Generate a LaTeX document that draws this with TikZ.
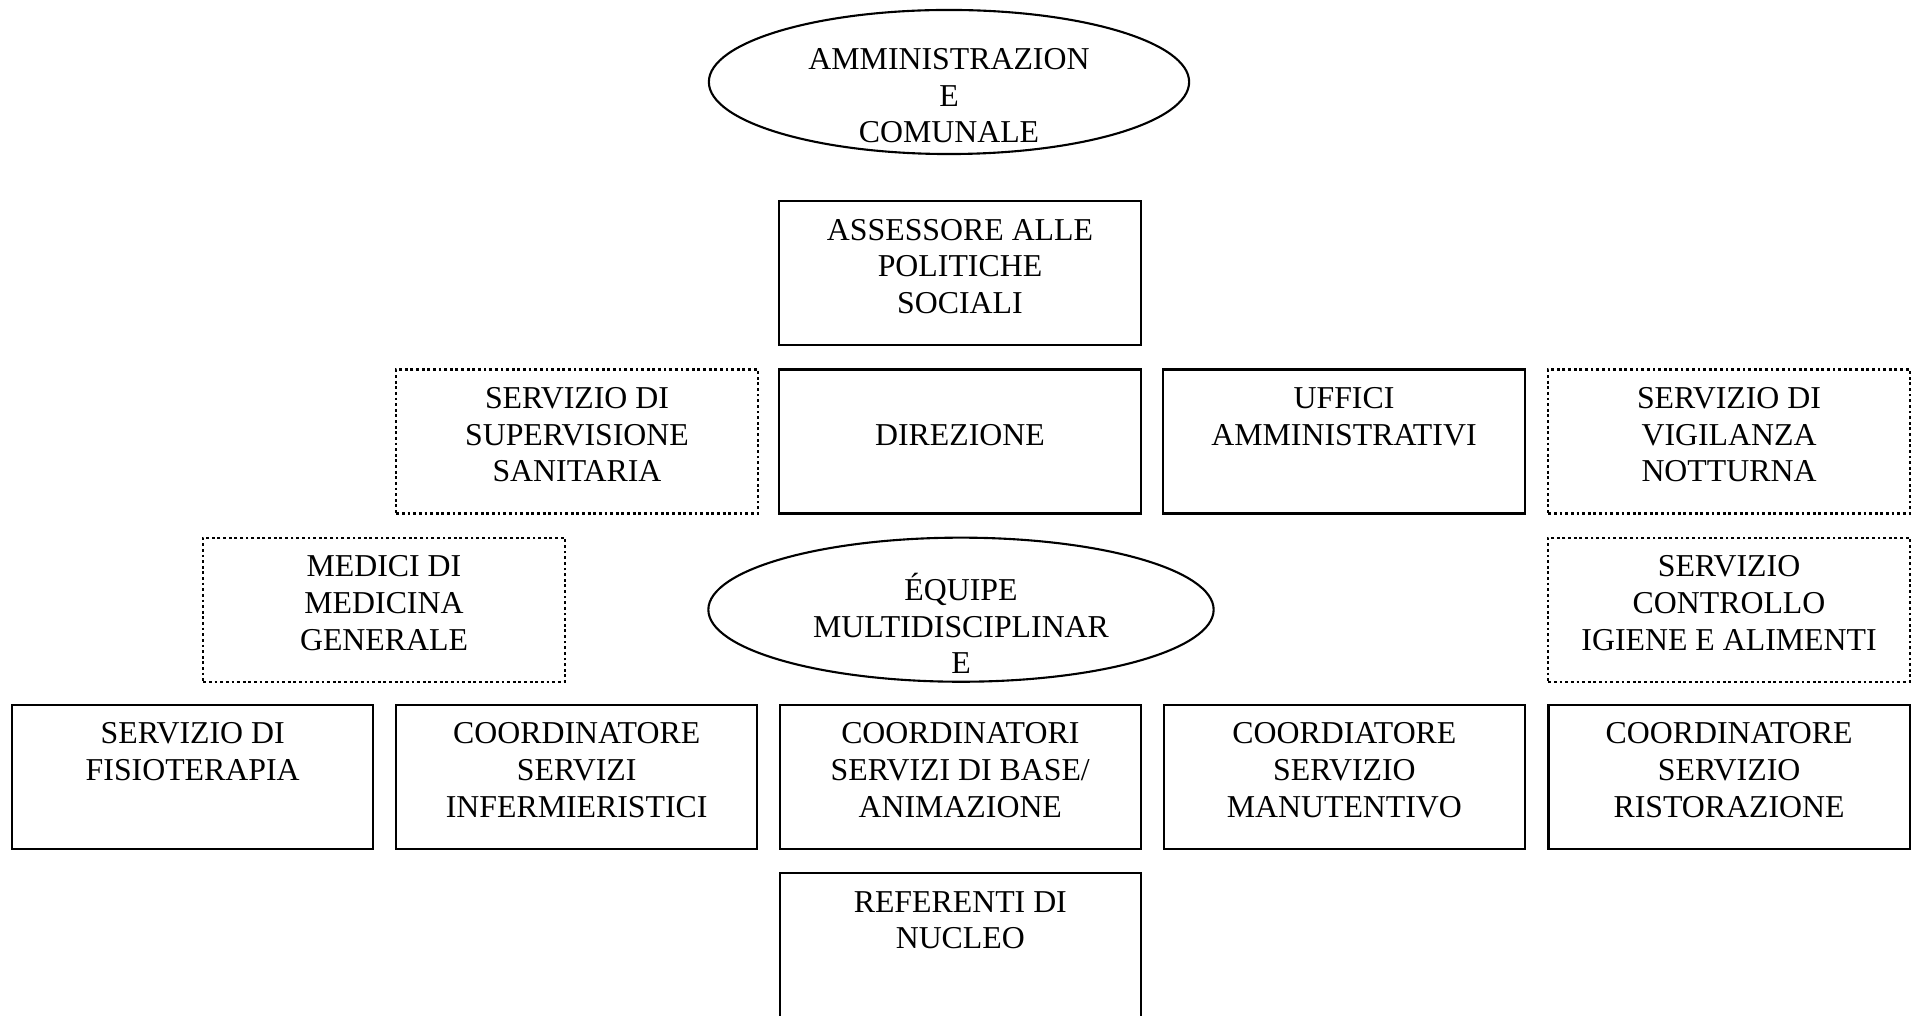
\documentclass[tikz,border=0pt]{standalone}
\usepackage{fontspec}
\setmainfont{Liberation Serif}
\usetikzlibrary{shapes.geometric}

\tikzset{
  unit/.style={draw, line width=0.6pt, minimum width=3.61cm, minimum height=1.44cm, inner sep=0pt},
  extunit/.style={unit, dash pattern=on 0.8pt off 0.8pt},
  oval/.style={draw, ellipse, line width=0.6pt, inner sep=0pt, minimum height=1.44cm},
  caption/.style={anchor=north, align=center, inner sep=0pt, yshift=-0.185cm, font=\fontsize{9.05}{10.4}\selectfont},
  ovalcaption/.style={anchor=center, align=center, inner sep=0pt, yshift=-0.14cm, font=\fontsize{9.05}{10.4}\selectfont},
}

\begin{document}
\begin{tikzpicture}[x=0.01cm, y=-0.01cm]
\useasboundingbox (0,0) rectangle (1912,1016);
\clip (0,0) rectangle (1912,1016);

% vertice
\node[oval, minimum width=4.8cm, label={[ovalcaption]center:AMMINISTRAZION\\E\\COMUNALE}] (admin) at (949,82) {};
\node[unit, label={[caption]north:ASSESSORE ALLE\\POLITICHE\\SOCIALI}] (assessore) at (960,273) {};

% direzione e servizi esterni
\node[extunit, label={[caption]north:SERVIZIO DI\\SUPERVISIONE\\SANITARIA}] (supervisione) at (577,441.5) {};
\node[unit, label={[caption, yshift=-0.366cm]north:DIREZIONE}] (direzione) at (960,441.5) {};
\node[unit, label={[caption]north:UFFICI\\AMMINISTRATIVI}] (uffici) at (1344,441.5) {};
\node[extunit, label={[caption]north:SERVIZIO DI\\VIGILANZA\\NOTTURNA}] (vigilanza) at (1729,441.5) {};

\node[extunit, label={[caption]north:MEDICI DI\\MEDICINA\\GENERALE}] (medici) at (384,609.7) {};
\node[oval, minimum width=5.05cm, label={[ovalcaption]center:ÉQUIPE\\MULTIDISCIPLINAR\\E}] (equipe) at (961,609.7) {};
\node[extunit, label={[caption]north:SERVIZIO\\CONTROLLO\\IGIENE E ALIMENTI}] (igiene) at (1729,609.7) {};

% coordinatori
\node[unit, label={[caption]north:SERVIZIO DI\\FISIOTERAPIA}] (fisioterapia) at (192.7,776.8) {};
\node[unit, label={[caption]north:COORDINATORE\\SERVIZI\\INFERMIERISTICI}] (infermieri) at (576.7,776.8) {};
\node[unit, label={[caption]north:COORDINATORI\\SERVIZI DI BASE/\\ANIMAZIONE}] (base) at (960.3,776.8) {};
\node[unit, label={[caption]north:COORDIATORE\\SERVIZIO\\MANUTENTIVO}] (manutenzione) at (1344.4,776.8) {};
\node[unit, label={[caption]north:COORDINATORE\\SERVIZIO\\RISTORAZIONE}] (ristorazione) at (1729.1,776.8) {};

\node[unit, minimum height=1.6cm, label={[caption]north:REFERENTI DI\\NUCLEO}] (referenti) at (960.3,953.1) {};

\end{tikzpicture}
\end{document}
